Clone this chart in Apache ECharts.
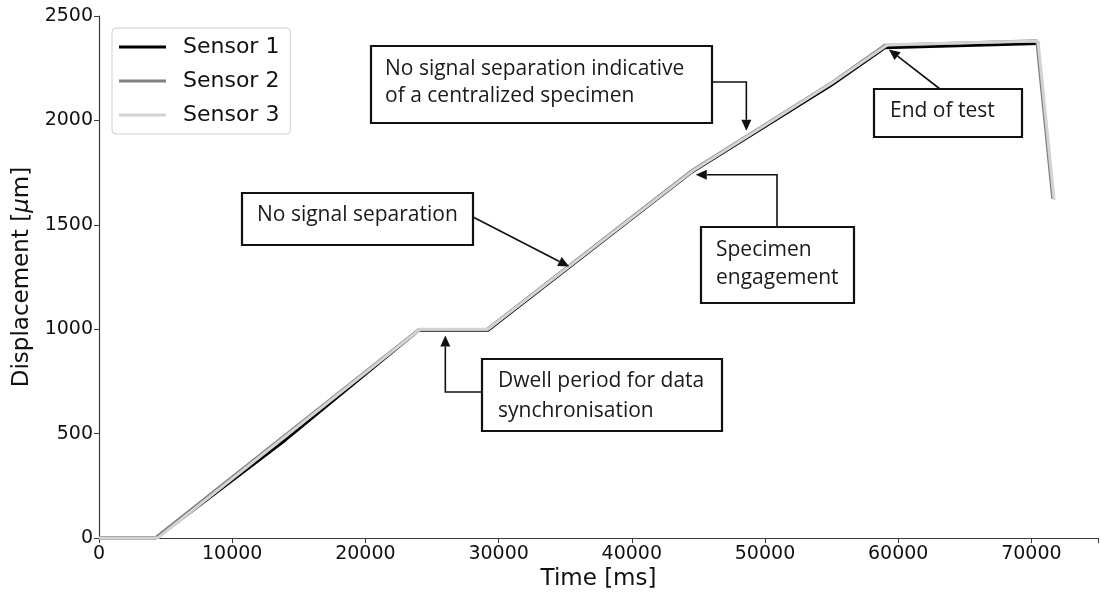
<!DOCTYPE html>
<html>
<head>
<meta charset="utf-8">
<script src="https://cdn.jsdelivr.net/npm/echarts@6/dist/echarts.min.js"></script>
<style>
  html, body { margin: 0; padding: 0; background: #fff; }
  #chart { width: 1101px; height: 596px; }
</style>
</head>
<body>
<div id="chart"></div>
<script>
// Displacement traces of the three sensors (time in ms, displacement in µm)
const sensor1Time = [0, 4300, 14000, 24000, 29200, 44400, 55000, 59000, 70600];
const sensor1Disp = [0, 0, 470, 995, 995, 1748, 2170, 2348, 2368];
const sensor2Time = [0, 4200, 24000, 29100, 44400, 55000, 59000, 70400, 71600];
const sensor2Disp = [0, 0, 998, 998, 1755, 2180, 2360, 2382, 1625];
const sensor3Time = [0, 4400, 24100, 29200, 44500, 55000, 59200, 70500, 71700];
const sensor3Disp = [0, 0, 1000, 1000, 1755, 2178, 2362, 2380, 1620];

const seriesNames = ['Sensor 1', 'Sensor 2', 'Sensor 3'];
const seriesColors = ['#000000', '#808080', '#d3d3d3'];

const xTicks = [0, 10000, 20000, 30000, 40000, 50000, 60000, 70000];
const yTicks = [0, 500, 1000, 1500, 2000, 2500];

// Callouts: the point on the trace each arrow refers to (data units)
const callouts = [
  { lines: ['No signal separation indicative', 'of a centralized specimen'], target: [48600, 1950] },
  { lines: ['End of test'], target: [59300, 2340] },
  { lines: ['Specimen', 'engagement'], target: [44800, 1740] },
  { lines: ['No signal separation'], target: [35300, 1300] },
  { lines: ['Dwell period for data', 'synchronisation'], target: [26000, 970] }
];

// Box geometry, text baselines and arrow routing (pixels)
const boxLayout = [
  { x: 371, y: 46, w: 341, h: 77, tx: 385, base: [76, 103], route: (b, t) => [[b.x + b.w, 82], [t[0], 82], t] },
  { x: 874, y: 89, w: 148, h: 48, tx: 890, base: [118], route: (b, t) => [[940, b.y], t] },
  { x: 701, y: 227, w: 153, h: 76, tx: 716, base: [257, 285], route: (b, t) => [[777, b.y], [777, t[1]], t] },
  { x: 242, y: 193, w: 231, h: 52, tx: 257, base: [222], route: (b, t) => [[b.x + b.w, 217], t] },
  { x: 482, y: 359, w: 240, h: 72, tx: 498, base: [388, 418], route: (b, t) => [[b.x, 392], [t[0], 392], t] }
];

function pairs(xs, ys) { return xs.map((x, i) => [x, ys[i]]); }

const dom = document.getElementById('chart');
const chart = echarts.init(dom, null, { renderer: 'canvas' });

const tickFont = 'DejaVu Sans';
const axisColor = '#3a3a3a';

chart.setOption({
  animation: false,
  backgroundColor: '#ffffff',
  grid: { left: 99, right: 1, top: 16, bottom: 55, containLabel: false },
  legend: {
    orient: 'vertical',
    left: 112,
    top: 28,
    data: seriesNames,
    icon: 'rect',
    itemWidth: 47,
    itemHeight: 3,
    itemGap: 10,
    padding: [7, 11, 7, 7],
    backgroundColor: '#ffffff',
    borderColor: '#d0d0d0',
    borderWidth: 1,
    borderRadius: 4,
    textStyle: { fontFamily: tickFont, fontSize: 22, color: '#111', padding: [0, 0, 0, 12], lineHeight: 24 }
  },
  xAxis: [{
    type: 'value',
    min: 0,
    max: 75000,
    interval: 10000,
    name: 'Time [ms]',
    nameLocation: 'middle',
    nameGap: 28,
    nameTextStyle: { fontFamily: tickFont, fontSize: 23, color: '#111' },
    splitLine: { show: false },
    axisLine: { show: true, onZero: false, lineStyle: { color: axisColor, width: 1.2 } },
    axisTick: { show: true, inside: false, length: 5, lineStyle: { color: axisColor } },
    axisLabel: {
      fontFamily: tickFont, fontSize: 19, color: '#111', margin: 6,
      formatter: v => (xTicks.indexOf(v) >= 0 ? String(v) : '')
    }
  }, {
    type: 'value',
    position: 'top',
    min: 0,
    max: 75000,
    axisLine: { show: true, lineStyle: { color: axisColor, width: 1.2 } },
    axisTick: { show: false },
    axisLabel: { show: false },
    splitLine: { show: false }
  }],
  yAxis: {
    type: 'value',
    min: 0,
    max: 2500,
    interval: 500,
    name: 'Displacement [{i|μ}m]',
    nameLocation: 'middle',
    nameGap: 64,
    nameTextStyle: {
      fontFamily: tickFont, fontSize: 23, color: '#111',
      rich: { i: { fontFamily: tickFont, fontSize: 23, fontStyle: 'italic', color: '#111' } }
    },
    splitLine: { show: false },
    axisLine: { show: true, lineStyle: { color: axisColor, width: 1.2 } },
    axisTick: { show: true, inside: false, length: 5, lineStyle: { color: axisColor } },
    axisLabel: {
      fontFamily: tickFont, fontSize: 19, color: '#111', margin: 6,
      formatter: v => (yTicks.indexOf(v) >= 0 ? String(v) : '')
    }
  },
  series: [
    { name: seriesNames[0], type: 'line', data: pairs(sensor1Time, sensor1Disp) },
    { name: seriesNames[1], type: 'line', data: pairs(sensor2Time, sensor2Disp) },
    { name: seriesNames[2], type: 'line', data: pairs(sensor3Time, sensor3Disp) }
  ].map((s, i) => Object.assign(s, {
    showSymbol: false,
    symbol: 'none',
    color: seriesColors[i],
    lineStyle: { color: seriesColors[i], width: 3 },
    z: 2 + i
  }))
});

// Callout boxes with their arrows
function arrowElements(pts) {
  const els = [];
  const n = pts.length;
  const tip = pts[n - 1];
  const prev = pts[n - 2];
  const dx = tip[0] - prev[0], dy = tip[1] - prev[1];
  const len = Math.hypot(dx, dy);
  const ux = dx / len, uy = dy / len;
  const headLen = 11, headW = 5;
  const baseX = tip[0] - ux * headLen, baseY = tip[1] - uy * headLen;
  const shaft = pts.slice(0, n - 1).concat([[baseX, baseY]]);
  els.push({ type: 'polyline', shape: { points: shaft }, style: { stroke: '#111', lineWidth: 1.6, fill: null }, z: 20 });
  els.push({
    type: 'polygon',
    shape: { points: [tip, [baseX - uy * headW, baseY + ux * headW], [baseX + uy * headW, baseY - ux * headW]] },
    style: { fill: '#111', stroke: null },
    z: 20
  });
  return els;
}

const annotationFont = '21px "Open Sans", sans-serif';
const graphics = [];
callouts.forEach((c, i) => {
  const b = boxLayout[i];
  const tgt = chart.convertToPixel({ xAxisIndex: 0, yAxisIndex: 0 }, c.target);
  graphics.push({
    type: 'rect',
    shape: { x: b.x, y: b.y, width: b.w, height: b.h },
    style: { fill: '#ffffff', stroke: '#111', lineWidth: 2.2 },
    z: 18
  });
  c.lines.forEach((line, k) => {
    graphics.push({
      type: 'text',
      x: b.tx,
      y: b.base[k] + 4,
      style: { text: line, font: annotationFont, fill: '#1a1a1a', textAlign: 'left', textVerticalAlign: 'bottom' },
      z: 21
    });
  });
  arrowElements(b.route(b, tgt)).forEach(e => graphics.push(e));
});

chart.setOption({ graphic: { elements: graphics } });
</script>
</body>
</html>
